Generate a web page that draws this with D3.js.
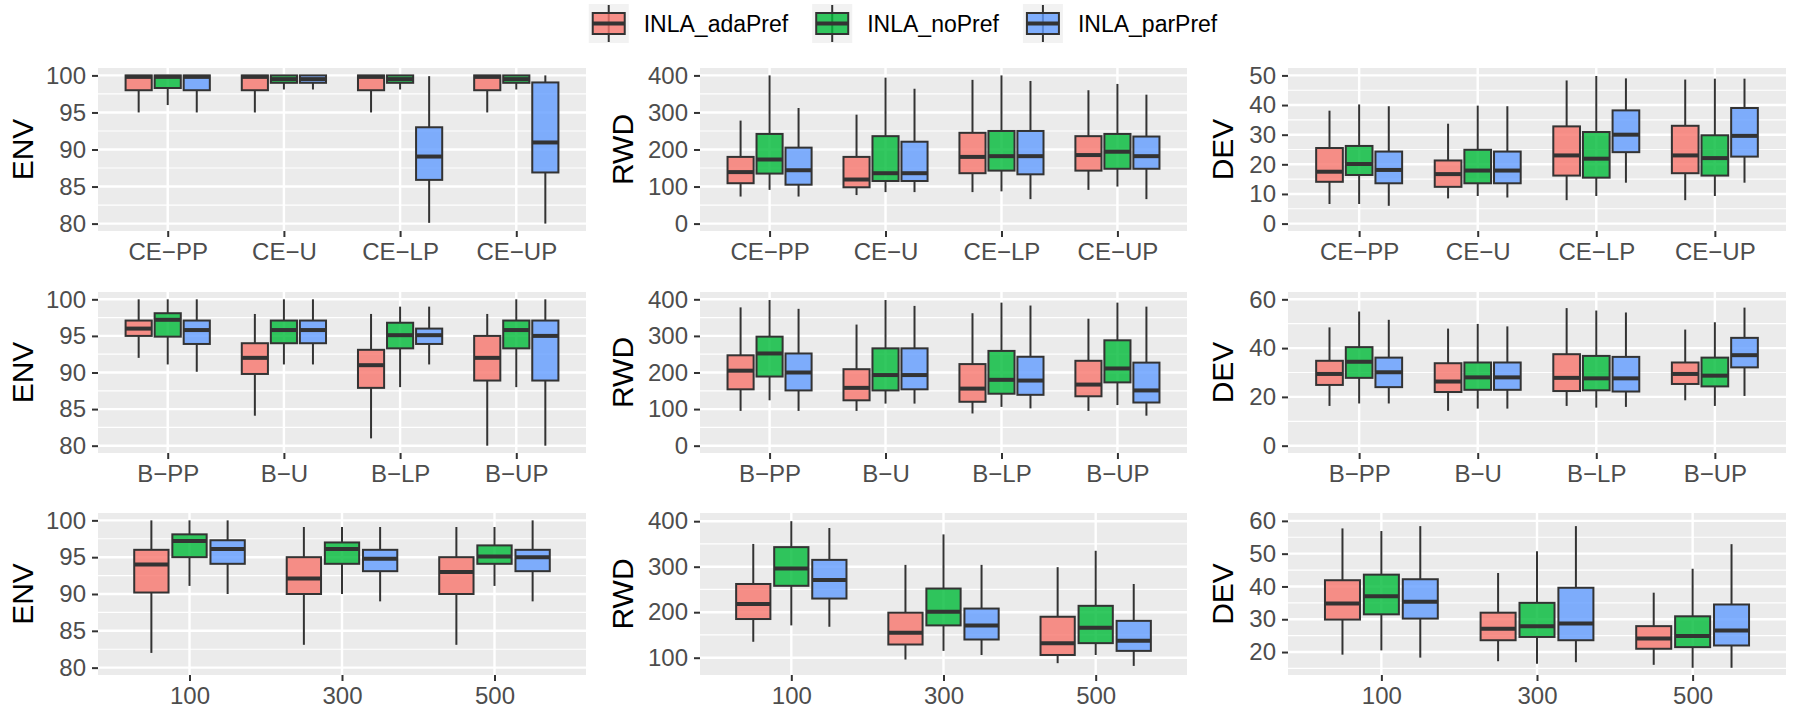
<!DOCTYPE html>
<html>
<head>
<meta charset="utf-8">
<script src="https://cdn.jsdelivr.net/npm/d3@7"></script>
<style>
  body { margin: 0; background: #fff; }
  svg text { font-family: "Liberation Sans", Arial, Helvetica, sans-serif; }
</style>
</head>
<body>
<svg id="chart" width="1800" height="712"></svg>
<script>
// methods (legend order) and ggplot default hues
const methods = ["INLA_adaPref", "INLA_noPref", "INLA_parPref"];
const methodColors = ["#F8766D", "#00BA38", "#619CFF"];

// category labels for each row of panels
const catsCE = ["CE\u2212PP", "CE\u2212U", "CE\u2212LP", "CE\u2212UP"];
const catsB = ["B\u2212PP", "B\u2212U", "B\u2212LP", "B\u2212UP"];
const catsN = ["100", "300", "500"];

// y tick labels
const envTicks = [80, 85, 90, 95, 100];
const rwdTicks = [0, 100, 200, 300, 400];
const rwdTicksN = [100, 200, 300, 400];
const devTicksCE = [0, 10, 20, 30, 40, 50];
const devTicksB = [0, 20, 40, 60];
const devTicksN = [20, 30, 40, 50, 60];

// box stats per category, per method: [lower whisker, q1, median, q3, upper whisker]
const envCE = [
  [[95, 98, 99.8, 100, 100], [96, 98.3, 99.8, 100, 100], [95, 98, 99.8, 100, 100]],
  [[95, 98, 99.8, 100, 100], [98.1, 99, 99.5, 100, 100], [98.1, 99, 99.5, 100, 100]],
  [[95, 98, 99.8, 100, 100], [98.1, 99, 99.5, 100, 100], [80.1, 85.9, 89.05, 93, 99.9]],
  [[95, 98, 99.8, 100, 100], [98.1, 99, 99.5, 100, 100], [80, 86.9, 90.95, 99.05, 100]]
];
const rwdCE = [
  [[73, 109, 139, 180, 278], [91, 135, 173, 242, 400], [73, 105, 144, 205, 312]],
  [[77, 98, 119, 180, 294], [85, 115, 136, 236, 394], [85, 115, 136, 221, 364]],
  [[85, 136, 180, 245, 388], [87, 143, 182, 250, 400], [66, 133, 182, 250, 385]],
  [[91, 143, 185, 236, 360], [100, 148, 194, 242, 377], [66, 148, 182, 235, 348]]
];
const devCE = [
  [[6.6, 14.1, 17.5, 25.5, 38.1], [6.6, 16.4, 20.1, 26.2, 40.2], [6.0, 13.6, 18.1, 24.3, 39.6]],
  [[8.5, 12.4, 16.7, 21.3, 33.7], [9.3, 13.6, 17.9, 24.9, 39.8], [8.8, 13.6, 17.9, 24.3, 39.6]],
  [[7.9, 16.2, 23.0, 32.8, 48.3], [9.3, 15.5, 21.9, 30.9, 49.8], [13.8, 24.1, 30.0, 38.2, 49.0]],
  [[7.9, 17.0, 23.0, 33.0, 48.6], [9.3, 16.2, 22.1, 29.8, 48.9], [13.8, 22.6, 29.6, 39.0, 48.9]]
];
const envB = [
  [[92, 95, 96, 97.1, 100], [91.1, 94.9, 97.2, 98.1, 100], [90.1, 93.9, 95.8, 97.1, 100]],
  [[84.1, 89.8, 92, 94, 98], [91.1, 94, 95.8, 97.1, 100], [91.1, 94, 95.8, 97.1, 100]],
  [[81, 87.9, 91, 93.1, 98], [88, 93.3, 95.1, 96.8, 99], [91.1, 93.9, 95.1, 96, 99]],
  [[80, 88.9, 92, 95, 98], [88, 93.3, 95.8, 97.1, 100], [80, 88.9, 95, 97.1, 100]]
];
const rwdB = [
  [[95, 154, 205, 247, 378], [124, 189, 252, 298, 398], [95, 151, 200, 252, 374]],
  [[95, 124, 158, 209, 331], [115, 151, 193, 266, 398], [115, 154, 193, 266, 382]],
  [[88, 120, 156, 223, 362], [106, 142, 180, 259, 391], [102, 139, 178, 243, 383]],
  [[95, 135, 167, 232, 347], [111, 173, 211, 288, 391], [82, 118, 151, 227, 380]]
];
const devB = [
  [[16.3, 24.9, 29.4, 34.8, 48.5], [17.3, 27.8, 34.4, 40.4, 55.0], [17.3, 24.0, 30.1, 36.1, 51.6]],
  [[14.3, 22.0, 26.3, 33.8, 48.0], [15.2, 22.9, 28.0, 34.1, 49.9], [15.2, 22.9, 28.0, 34.1, 48.9]],
  [[16.3, 22.4, 27.8, 37.5, 56.4], [15.6, 22.7, 27.6, 36.8, 55.4], [15.9, 22.2, 27.6, 36.4, 54.6]],
  [[18.6, 25.3, 29.4, 34.1, 47.6], [16.3, 24.3, 28.7, 36.1, 50.6], [20.4, 32.1, 37.1, 44.2, 56.6]]
];
const envN = [
  [[82, 90.2, 94, 96, 100], [91.1, 95, 97.2, 98.1, 100], [90, 94.1, 96.1, 97.3, 100]],
  [[83.1, 90, 92.1, 95, 99.1], [90, 94.1, 96.1, 97, 99.1], [89, 93.1, 94.8, 96, 99.1]],
  [[83.1, 90, 93, 95, 99.1], [91.1, 94.1, 95.1, 96.6, 99.1], [89, 93.1, 95, 96, 100]]
];
const rwdN = [
  [[135, 185, 218, 262, 350], [171, 258, 296, 343, 400], [168, 230, 271, 315, 385]],
  [[96, 129, 155, 199, 304], [115, 171, 201, 252, 371], [106, 140, 171, 208, 304]],
  [[88, 106, 132, 190, 299], [106, 132, 166, 214, 335], [82, 115, 137, 181, 262]]
];
const devN = [
  [[19.2, 29.9, 34.8, 41.9, 57.7], [20.5, 31.5, 37.0, 43.6, 56.9], [18.3, 30.2, 35.3, 42.2, 58.4]],
  [[17.2, 23.6, 27.1, 32.0, 44.1], [16.4, 24.6, 27.9, 35.0, 50.7], [16.9, 23.6, 28.7, 39.6, 58.4]],
  [[16.1, 21.0, 24.1, 27.9, 38.1], [15.2, 21.5, 24.9, 30.9, 45.4], [15.2, 22.0, 26.6, 34.5, 52.9]]
];

// layout (pixels)
const cols = [
  {x0: 0, left: 98, right: 586},
  {x0: 600, left: 700, right: 1187},
  {x0: 1200, left: 1288, right: 1786}
];
const rows = [
  {top: 68, bottom: 231},
  {top: 292, bottom: 453},
  {top: 513, bottom: 675}
];

const panels = [
  {row: 0, col: 0, title: "ENV", cats: catsCE, stats: envCE, ticks: envTicks, domain: [79, 101]},
  {row: 0, col: 1, title: "RWD", cats: catsCE, stats: rwdCE, ticks: rwdTicks, domain: [-20, 420]},
  {row: 0, col: 2, title: "DEV", cats: catsCE, stats: devCE, ticks: devTicksCE, domain: [-2.5, 52.5]},
  {row: 1, col: 0, title: "ENV", cats: catsB, stats: envB, ticks: envTicks, domain: [79, 101]},
  {row: 1, col: 1, title: "RWD", cats: catsB, stats: rwdB, ticks: rwdTicks, domain: [-20, 420]},
  {row: 1, col: 2, title: "DEV", cats: catsB, stats: devB, ticks: devTicksB, domain: [-3, 63]},
  {row: 2, col: 0, title: "ENV", cats: catsN, stats: envN, ticks: envTicks, domain: [79, 101]},
  {row: 2, col: 1, title: "RWD", cats: catsN, stats: rwdN, ticks: rwdTicksN, domain: [62, 418]},
  {row: 2, col: 2, title: "DEV", cats: catsN, stats: devN, ticks: devTicksN, domain: [13, 62.4]}
];

const svg = d3.select("#chart");
const outline = "#333333";

panels.forEach(p => drawPanel(p));
drawLegend();

function drawPanel(p) {
  const c = cols[p.col], r = rows[p.row];
  const g = svg.append("g");

  const x = d3.scalePoint().domain(p.cats).range([c.left, c.right]).padding(0.6);
  const y = d3.scaleLinear().domain(p.domain).range([r.bottom, r.top]);
  const step = x.step();

  // panel background
  g.append("rect")
    .attr("x", c.left).attr("y", r.top)
    .attr("width", c.right - c.left).attr("height", r.bottom - r.top)
    .attr("fill", "#EBEBEB");

  // minor grid halfway between major ticks
  const half = (p.ticks[1] - p.ticks[0]) / 2;
  const minor = [];
  for (let v = p.ticks[0] - half; v <= p.ticks[p.ticks.length - 1] + half; v += 2 * half) {
    if (v > p.domain[0] && v < p.domain[1]) minor.push(v);
  }
  g.selectAll(".minor").data(minor).join("line")
    .attr("x1", c.left).attr("x2", c.right)
    .attr("y1", d => y(d)).attr("y2", d => y(d))
    .attr("stroke", "#fff").attr("stroke-width", 1.2);

  g.selectAll(".major-y").data(p.ticks).join("line")
    .attr("x1", c.left).attr("x2", c.right)
    .attr("y1", d => y(d)).attr("y2", d => y(d))
    .attr("stroke", "#fff").attr("stroke-width", 2.4);

  g.selectAll(".major-x").data(p.cats).join("line")
    .attr("x1", d => x(d)).attr("x2", d => x(d))
    .attr("y1", r.top).attr("y2", r.bottom)
    .attr("stroke", "#fff").attr("stroke-width", 2.4);

  // boxes
  const boxW = 0.225 * step;
  const boxes = [];
  p.cats.forEach((cat, i) => {
    p.stats[i].forEach((s, j) => {
      boxes.push({cx: x(cat) + (j - 1) * 0.25 * step, s: s, j: j});
    });
  });

  const bg = g.selectAll(".box").data(boxes).join("g");
  bg.append("line")
    .attr("x1", d => d.cx).attr("x2", d => d.cx)
    .attr("y1", d => y(d.s[4])).attr("y2", d => y(d.s[3]))
    .attr("stroke", outline).attr("stroke-width", 2);
  bg.append("line")
    .attr("x1", d => d.cx).attr("x2", d => d.cx)
    .attr("y1", d => y(d.s[1])).attr("y2", d => y(d.s[0]))
    .attr("stroke", outline).attr("stroke-width", 2);
  bg.append("rect")
    .attr("x", d => d.cx - boxW / 2)
    .attr("y", d => y(d.s[3]))
    .attr("width", boxW)
    .attr("height", d => y(d.s[1]) - y(d.s[3]))
    .attr("fill", d => methodColors[d.j])
    .attr("fill-opacity", 0.8)
    .attr("stroke", outline).attr("stroke-width", 2);
  bg.append("line")
    .attr("x1", d => d.cx - boxW / 2).attr("x2", d => d.cx + boxW / 2)
    .attr("y1", d => y(d.s[2])).attr("y2", d => y(d.s[2]))
    .attr("stroke", outline).attr("stroke-width", 4);

  // axes
  const yAxisG = g.append("g")
    .attr("transform", `translate(${c.left},0)`)
    .call(d3.axisLeft(y).tickValues(p.ticks).tickSizeInner(6).tickSizeOuter(0).tickPadding(6));
  const xAxisG = g.append("g")
    .attr("transform", `translate(0,${r.bottom})`)
    .call(d3.axisBottom(x).tickSizeInner(6).tickSizeOuter(0).tickPadding(6));

  [yAxisG, xAxisG].forEach(a => {
    a.select(".domain").remove();
    a.selectAll(".tick line").attr("stroke", outline).attr("stroke-width", 2);
    a.selectAll(".tick text")
      .attr("fill", "#4D4D4D")
      .style("font-size", "24px");
  });

  // y axis title
  g.append("text")
    .attr("transform", `translate(${c.x0 + 33},${(r.top + r.bottom) / 2}) rotate(-90)`)
    .attr("text-anchor", "middle")
    .attr("fill", "#000")
    .style("font-size", "30px")
    .text(p.title);
}

function drawLegend() {
  const keyW = 40, keyH = 39, keyTop = 4, textGap = 15, itemGap = 24;
  const lg = svg.append("g");
  let cx = 0;
  methods.forEach((m, i) => {
    const it = lg.append("g").attr("transform", `translate(${cx},0)`);
    it.append("rect")
      .attr("x", 0).attr("y", keyTop).attr("width", keyW).attr("height", keyH)
      .attr("fill", "#F2F2F2");
    const mid = keyW / 2;
    it.append("line")
      .attr("x1", mid).attr("x2", mid).attr("y1", keyTop + 1).attr("y2", keyTop + keyH - 1)
      .attr("stroke", outline).attr("stroke-width", 2);
    it.append("rect")
      .attr("x", 4).attr("y", 13).attr("width", keyW - 8).attr("height", 21)
      .attr("fill", methodColors[i]).attr("fill-opacity", 0.8)
      .attr("stroke", outline).attr("stroke-width", 2);
    it.append("line")
      .attr("x1", 4).attr("x2", keyW - 4).attr("y1", 23.5).attr("y2", 23.5)
      .attr("stroke", outline).attr("stroke-width", 4);
    const t = it.append("text")
      .attr("x", keyW + textGap).attr("y", 23.5)
      .attr("dy", "0.35em")
      .attr("fill", "#000")
      .style("font-size", "23px")
      .text(m);
    cx += keyW + textGap + t.node().getComputedTextLength() + itemGap;
  });
  const total = cx - itemGap;
  lg.attr("transform", `translate(${(1800 - total) / 2 + 3},0)`);
}
</script>
</body>
</html>
